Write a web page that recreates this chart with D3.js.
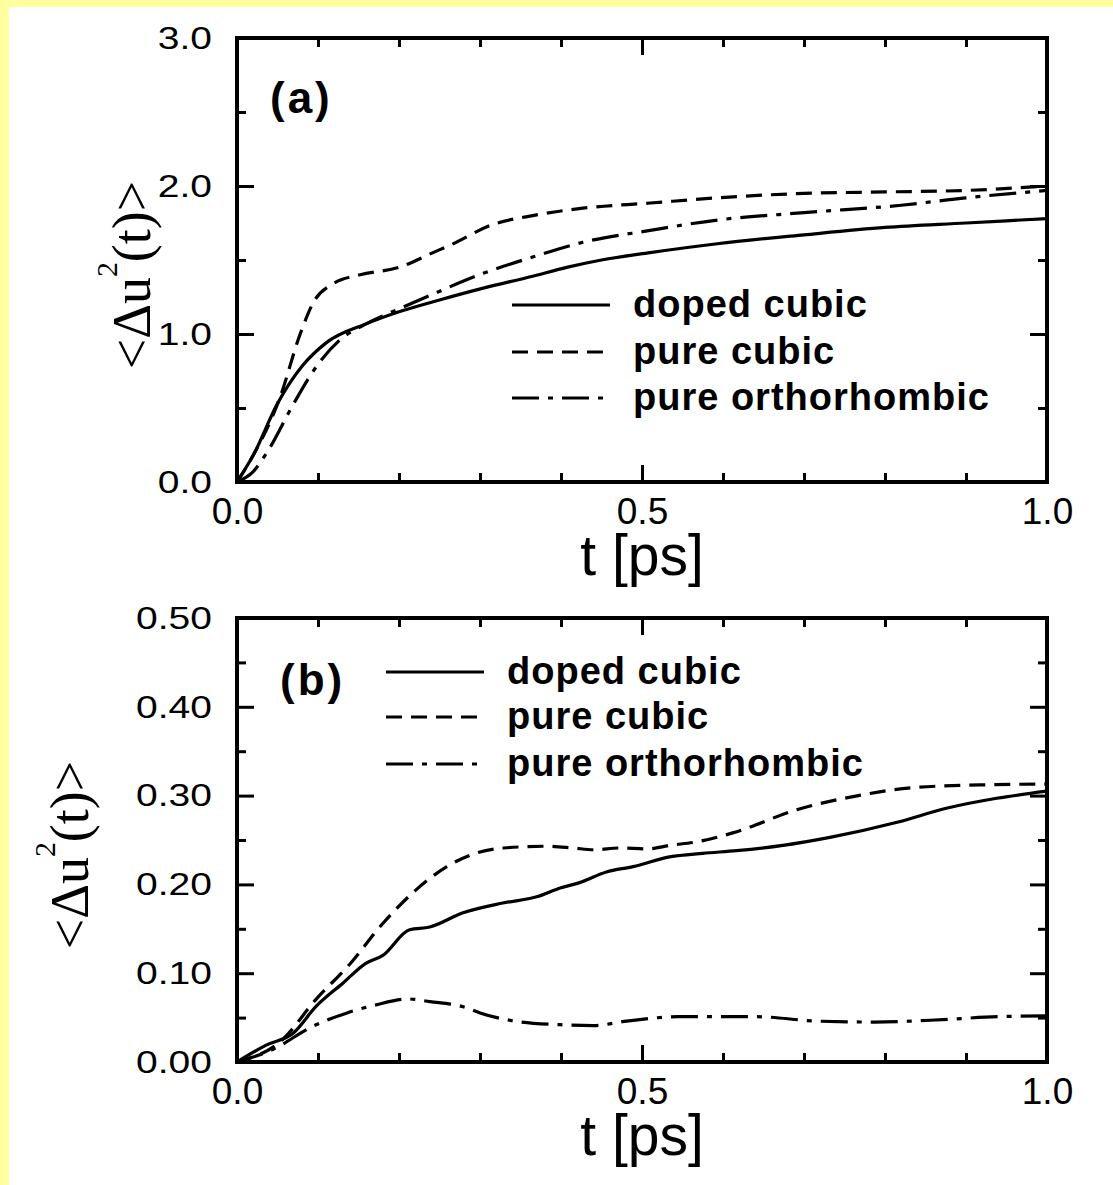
<!DOCTYPE html>
<html>
<head>
<meta charset="utf-8">
<script src="https://cdn.jsdelivr.net/npm/d3@7"></script>
<style>
  body { margin: 0; background: #fff; }
  svg { display: block; }
</style>
</head>
<body>
<div id="chart"></div>
<script>
// ---- data ----
var seriesNames = ["doped cubic", "pure cubic", "pure orthorhombic"];

// panel (a)
var tA_doped = [0, 0.02, 0.05, 0.08, 0.11, 0.16, 0.2, 0.25, 0.304, 0.365, 0.407, 0.45, 0.51, 0.593, 0.7, 0.8, 0.9, 1.0];
var vA_doped = [0, 0.18, 0.53, 0.78, 0.94, 1.07, 1.15, 1.23, 1.31, 1.39, 1.45, 1.50, 1.55, 1.61, 1.67, 1.72, 1.75, 1.78];
var tA_cubic = [0, 0.02, 0.053, 0.078, 0.094, 0.119, 0.152, 0.2, 0.242, 0.263, 0.316, 0.365, 0.427, 0.51, 0.593, 0.7, 0.8, 0.9, 1.0];
var vA_cubic = [0, 0.18, 0.57, 1.0, 1.21, 1.34, 1.40, 1.45, 1.55, 1.60, 1.74, 1.80, 1.85, 1.885, 1.92, 1.95, 1.96, 1.97, 2.0];
var tA_ortho = [0, 0.02, 0.037, 0.07, 0.098, 0.127, 0.16, 0.2, 0.242, 0.304, 0.365, 0.427, 0.51, 0.593, 0.7, 0.82, 0.9, 1.0];
var vA_ortho = [0, 0.07, 0.2, 0.53, 0.78, 0.96, 1.07, 1.17, 1.27, 1.41, 1.52, 1.62, 1.70, 1.77, 1.82, 1.87, 1.92, 1.97];

// panel (b)
var tB_doped = [0, 0.036, 0.07, 0.097, 0.131, 0.159, 0.18, 0.213, 0.238, 0.279, 0.328, 0.37, 0.399, 0.423, 0.456, 0.489, 0.534, 0.575, 0.617, 0.674, 0.732, 0.815, 0.877, 0.938, 1.0];
var vB_doped = [0, 0.019, 0.033, 0.062, 0.089, 0.111, 0.12, 0.149, 0.152, 0.168, 0.179, 0.186, 0.196, 0.202, 0.214, 0.22, 0.231, 0.235, 0.238, 0.244, 0.253, 0.27, 0.286, 0.297, 0.305];
var tB_cubic = [0, 0.056, 0.097, 0.14, 0.18, 0.22, 0.259, 0.288, 0.329, 0.383, 0.415, 0.44, 0.473, 0.506, 0.535, 0.568, 0.612, 0.691, 0.773, 0.835, 0.917, 1.0];
var vB_cubic = [0, 0.025, 0.07, 0.111, 0.156, 0.193, 0.22, 0.233, 0.241, 0.243, 0.241, 0.239, 0.241, 0.24, 0.244, 0.248, 0.258, 0.284, 0.301, 0.309, 0.312, 0.313];
var tB_ortho = [0, 0.044, 0.093, 0.135, 0.17, 0.211, 0.238, 0.28, 0.301, 0.343, 0.399, 0.44, 0.481, 0.544, 0.641, 0.717, 0.787, 0.856, 0.939, 1.0];
var vB_ortho = [0, 0.014, 0.04, 0.055, 0.064, 0.071, 0.068, 0.062, 0.055, 0.046, 0.042, 0.041, 0.046, 0.051, 0.051, 0.046, 0.045, 0.047, 0.051, 0.052];

// tick labels
var xTickVals = [0, 0.5, 1.0];
var xTickLabels = ["0.0", "0.5", "1.0"];
var yTickValsA = [0, 1, 2, 3];
var yTickLabelsA = ["0.0", "1.0", "2.0", "3.0"];
var yTickValsB = [0, 0.1, 0.2, 0.3, 0.4, 0.5];
var yTickLabelsB = ["0.00", "0.10", "0.20", "0.30", "0.40", "0.50"];

// ---- drawing ----
var W = 1113, H = 1185;
var dashes = [null, "16,9", "27,9,5,9"];

var svg = d3.select("#chart").append("svg").attr("width", W).attr("height", H);
svg.append("rect").attr("width", W).attr("height", H).attr("fill", "#ffffa0");
svg.append("rect").attr("x", 9).attr("y", 7).attr("width", W - 9).attr("height", H - 7).attr("fill", "#fff");

var x = d3.scaleLinear().domain([0, 1]).range([237, 1047]);

function drawPanel(p) {
  var y = d3.scaleLinear().domain(p.ydom).range([p.bottom, p.top]);
  var g = svg.append("g");
  var line = d3.line().x(function (d) { return x(d[0]); }).y(function (d) { return y(d[1]); }).curve(d3.curveMonotoneX);

  // curves
  p.series.forEach(function (s, i) {
    g.append("path").datum(d3.zip(s[0], s[1]))
      .attr("d", line).attr("fill", "none").attr("stroke", "#000")
      .attr("stroke-width", 3.2).attr("stroke-dasharray", dashes[i]);
  });

  // ticks on all four sides, pointing inward
  var xt = x.ticks(10), yt = y.ticks(p.yMinorCount);
  function isMajor(v, step) { return Math.abs(v / step - Math.round(v / step)) < 1e-6; }
  function tickAxis(axisFn, scale, vals, pos, size, horiz) {
    var a = svg.append("g").attr("transform", horiz ? "translate(0," + pos + ")" : "translate(" + pos + ",0)")
      .call(axisFn(scale).tickValues(vals).tickSize(-size).tickSizeOuter(0).tickFormat(""));
    a.select(".domain").remove();
    a.selectAll("line").attr("stroke", "#000").attr("stroke-width", 3);
  }
  var xMaj = xt.filter(function (v) { return isMajor(v, 0.5); }), xMin = xt.filter(function (v) { return !isMajor(v, 0.5); });
  var yMaj = yt.filter(function (v) { return isMajor(v, p.yMajorStep); }), yMin = yt.filter(function (v) { return !isMajor(v, p.yMajorStep); });
  [[d3.axisBottom, p.bottom], [d3.axisTop, p.top]].forEach(function (a) {
    tickAxis(a[0], x, xMaj, a[1], 17, true);
    tickAxis(a[0], x, xMin, a[1], 9, true);
  });
  [[d3.axisLeft, 237], [d3.axisRight, 1047]].forEach(function (a) {
    tickAxis(a[0], y, yMaj, a[1], 17, false);
    tickAxis(a[0], y, yMin, a[1], 9, false);
  });

  // frame
  g.append("rect").attr("x", x(0)).attr("y", p.top).attr("width", x(1) - x(0)).attr("height", p.bottom - p.top)
    .attr("fill", "none").attr("stroke", "#000").attr("stroke-width", 4);

  // tick labels
  var xl = svg.append("g").attr("transform", "translate(0," + p.bottom + ")")
    .call(d3.axisBottom(x).tickValues(xTickVals).tickSize(0).tickPadding(16)
      .tickFormat(function (d, i) { return xTickLabels[i]; }));
  xl.select(".domain").remove();
  xl.selectAll("text").attr("font-family", "Liberation Sans, Arial, sans-serif").attr("font-size", 37).attr("fill", "#000");

  var yl = svg.append("g").attr("transform", "translate(237,0)")
    .call(d3.axisLeft(y).tickValues(p.yLabelVals).tickSize(0).tickPadding(0)
      .tickFormat(function (d, i) { return p.yLabels[i]; }));
  yl.select(".domain").remove();
  yl.selectAll("text").attr("font-family", "Liberation Sans, Arial, sans-serif").attr("font-size", 32)
    .attr("fill", "#000").attr("x", -25 / 1.22).attr("transform", "scale(1.22,1)");

  // axis titles
  svg.append("text").attr("x", 642).attr("y", p.bottom + 93).attr("text-anchor", "middle")
    .attr("font-family", "Liberation Sans, Arial, sans-serif").attr("font-size", 57).text("t [ps]");

  var yt2 = svg.append("text").attr("transform", "translate(" + p.ytitleX + "," + ((p.top + p.bottom) / 2 + 15) + ") rotate(-90)")
    .attr("text-anchor", "middle").attr("font-family", "Liberation Serif, Times New Roman, serif").attr("font-size", 54);
  yt2.append("tspan").text("<\u0394u");
  yt2.append("tspan").attr("font-size", 30).attr("dy", -33).text("2");
  yt2.append("tspan").attr("dy", 33).text("(t)>");

  // panel label
  svg.append("text").attr("x", p.labelX).attr("y", p.labelY).attr("font-family", "Liberation Sans, Arial, sans-serif")
    .attr("font-weight", "bold").attr("font-size", 44).attr("letter-spacing", 3).text(p.label);

  // legend
  seriesNames.forEach(function (name, i) {
    var ly = p.legendY[i];
    svg.append("line").attr("x1", p.legendX).attr("x2", p.legendX + 98).attr("y1", ly).attr("y2", ly)
      .attr("stroke", "#000").attr("stroke-width", 3.2).attr("stroke-dasharray", dashes[i]);
    svg.append("text").attr("x", p.legendX + 121).attr("y", ly + 12)
      .attr("font-family", "Liberation Sans, Arial, sans-serif").attr("font-weight", "bold")
      .attr("font-size", 38).attr("letter-spacing", 1).text(name);
  });
}

drawPanel({
  top: 38, bottom: 482, ydom: [0, 3], yMinorCount: 6, yMajorStep: 1,
  yLabelVals: yTickValsA, yLabels: yTickLabelsA, ytitleX: 150,
  label: "(a)", labelX: 270, labelY: 113,
  legendX: 512, legendY: [305, 352, 398],
  series: [[tA_doped, vA_doped], [tA_cubic, vA_cubic], [tA_ortho, vA_ortho]]
});
drawPanel({
  top: 618, bottom: 1062, ydom: [0, 0.5], yMinorCount: 10, yMajorStep: 0.1,
  yLabelVals: yTickValsB, yLabels: yTickLabelsB, ytitleX: 88,
  label: "(b)", labelX: 280, labelY: 695,
  legendX: 386, legendY: [672, 717, 764],
  series: [[tB_doped, vB_doped], [tB_cubic, vB_cubic], [tB_ortho, vB_ortho]]
});
</script>
</body>
</html>
